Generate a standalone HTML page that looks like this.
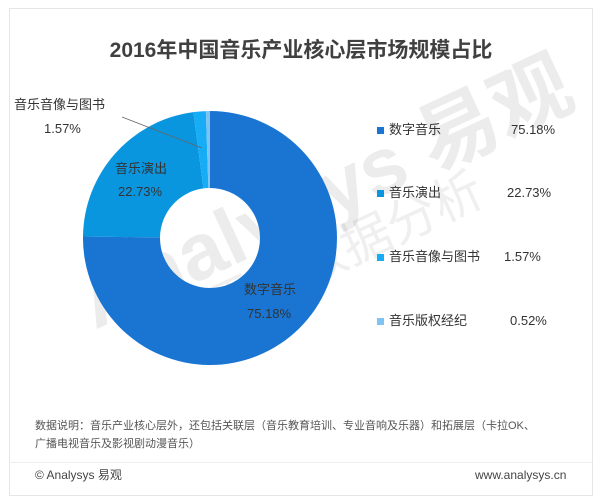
<!DOCTYPE html>
<html><head><meta charset="utf-8"><style>
body{margin:0;width:614px;height:499px;background:#fff;font-family:"Liberation Sans","Noto Sans CJK SC",sans-serif;overflow:hidden;position:relative}
.frame{position:absolute;left:9px;top:8px;width:584px;height:488px;border:1px solid #e6e6e6;box-sizing:border-box;background:#fff}
.t{position:absolute;white-space:nowrap;color:#333;line-height:16px}
</style></head><body>
<div class="frame"></div>
<div style="position:absolute;left:9px;top:462px;width:584px;border-top:1px solid #eee"></div>
<svg width="614" height="499" style="position:absolute;left:0;top:0">
<g font-family="Liberation Sans,Noto Sans CJK SC,sans-serif" font-weight="bold" fill="#000" opacity="0.07">
<text x="0" y="0" font-size="80" transform="translate(95 330) rotate(-25)">Analysys 易观</text>
</g>
<g font-family="Liberation Sans,Noto Sans CJK SC,sans-serif" fill="#000" opacity="0.06">
<text x="0" y="0" font-size="50" transform="translate(170 350) rotate(-25)">你要的数据分析</text>
</g>
<path d="M210,111 A127,127 0 1 1 83,236.56 L160,237.43 A50,50 0 1 0 210,188 Z" fill="#1a75d2"/>
<path d="M83,236.56 A127,127 0 0 1 193.38,112.09 L203.46,188.43 A50,50 0 0 0 160,237.43 Z" fill="#0a96df"/>
<path d="M193.38,112.09 A127,127 0 0 1 205.86,111.07 L208.37,188.03 A50,50 0 0 0 203.46,188.43 Z" fill="#17acf6"/>
<path d="M205.86,111.07 A127,127 0 0 1 210,111 L210,188 A50,50 0 0 0 208.37,188.03 Z" fill="#7ec3f3"/>
<line x1="122" y1="117" x2="202" y2="148" stroke="#666" stroke-width="0.8"/>
<rect x="377" y="127" width="7" height="7" fill="#1a75d2"/>
<rect x="377" y="190" width="7" height="7" fill="#0a96df"/>
<rect x="377" y="254" width="7" height="7" fill="#17acf6"/>
<rect x="377" y="318" width="7" height="7" fill="#7ec3f3"/>
</svg>
<div class="t" style="left:0;width:602px;text-align:center;top:38px;font-size:21px;line-height:26px;font-weight:bold;color:#404040">2016年中国音乐产业核心层市场规模占比</div>
<div class="t" style="left:14px;top:97px;font-size:13px">音乐音像与图书</div>
<div class="t" style="left:44px;top:121px;font-size:13px">1.57%</div>
<div class="t" style="left:115px;top:161px;font-size:13px">音乐演出</div>
<div class="t" style="left:118px;top:184px;font-size:13px">22.73%</div>
<div class="t" style="left:244px;top:282px;font-size:13px">数字音乐</div>
<div class="t" style="left:247px;top:306px;font-size:13px">75.18%</div>
<div class="t" style="left:389px;top:122px;font-size:13px">数字音乐</div><div class="t" style="left:511px;top:122px;font-size:13px">75.18%</div>
<div class="t" style="left:389px;top:185px;font-size:13px">音乐演出</div><div class="t" style="left:507px;top:185px;font-size:13px">22.73%</div>
<div class="t" style="left:389px;top:249px;font-size:13px">音乐音像与图书</div><div class="t" style="left:504px;top:249px;font-size:13px">1.57%</div>
<div class="t" style="left:389px;top:313px;font-size:13px">音乐版权经纪</div><div class="t" style="left:510px;top:313px;font-size:13px">0.52%</div>
<div class="t" style="left:35px;top:418px;font-size:11px;color:#555">数据说明：音乐产业核心层外，还包括关联层（音乐教育培训、专业音响及乐器）和拓展层（卡拉OK、</div>
<div class="t" style="left:35px;top:436px;font-size:11px;color:#555">广播电视音乐及影视剧动漫音乐）</div>
<div class="t" style="left:35px;top:467px;font-size:12px;color:#444">© Analysys 易观</div>
<div class="t" style="left:475px;top:467px;font-size:12px;color:#444">www.analysys.cn</div>
</body></html>
